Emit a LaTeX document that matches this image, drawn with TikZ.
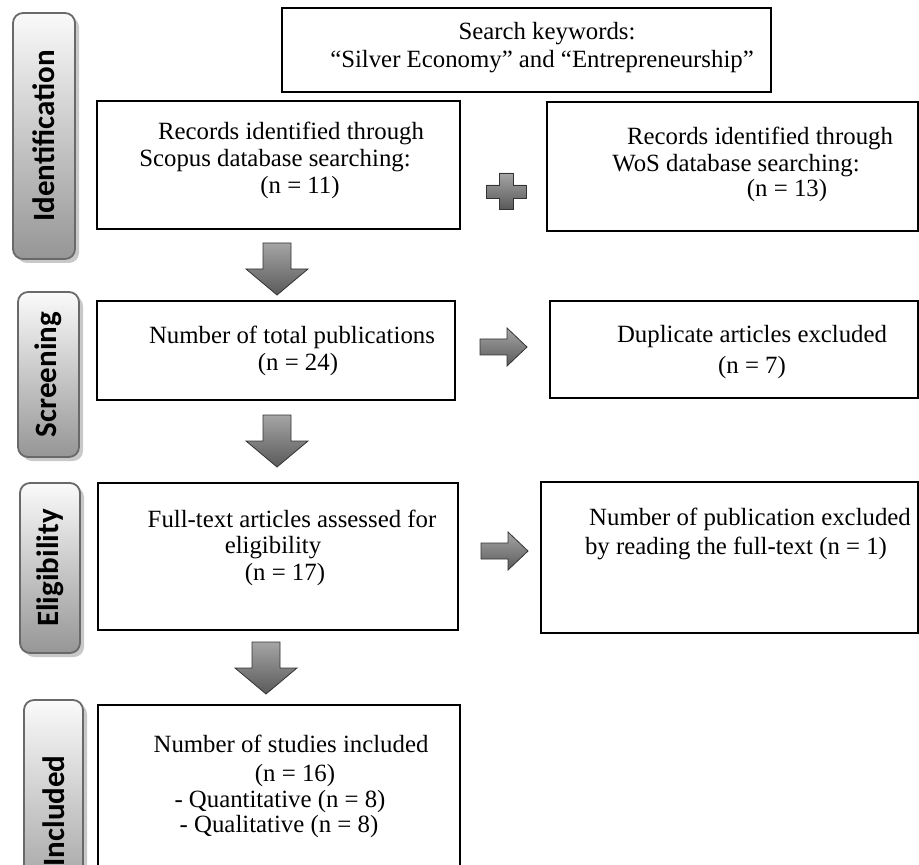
\documentclass[tikz,border=0pt]{standalone}
\usepackage{fontspec}
\setmainfont{Liberation Serif}
\newfontfamily\labfont{Carlito}
\usetikzlibrary{fit}
\definecolor{arrtop}{RGB}{165,165,165}
\definecolor{arrbot}{RGB}{90,90,90}
\definecolor{labtop}{RGB}{250,250,250}
\definecolor{labbot}{RGB}{150,150,150}
\definecolor{labedge}{RGB}{105,105,105}
\definecolor{shadowc}{RGB}{200,200,200}
\begin{document}
\begin{tikzpicture}[x=0.5pt,y=-0.5pt,
  box/.style={draw=black, line width=0.75pt, inner sep=0pt},
  txt/.style={anchor=base, inner sep=0pt, font=\fontsize{12.4}{14}\selectfont},
  blk/.style={draw=black!80, line width=0.4pt, top color=arrtop, bottom color=arrbot},
  phase/.style={draw=labedge, line width=0.9pt, rounded corners=5pt, top color=labtop, bottom color=labbot, inner sep=0pt},
  phshadow/.style={fill=shadowc, rounded corners=5pt},
  phasetxt/.style={rotate=90, font=\labfont\bfseries\fontsize{15.5}{16}\selectfont, inner sep=0pt},
  downblk/.pic={\path[blk] (-14,0) -- (14,0) -- (14,26) -- (31,26) -- (0,52) -- (-31,26) -- (-14,26) -- cycle;},
  rightblk/.pic={\path[blk] (0,-8) -- (27,-8) -- (27,-19) -- (47,0) -- (27,19) -- (27,8) -- (0,8) -- cycle;},
  plusblk/.pic={\path[blk] (-7,-18) -- (7,-18) -- (7,-6) -- (20,-6) -- (20,7) -- (7,7) -- (7,18) -- (-7,18) -- (-7,7) -- (-20,7) -- (-20,-6) -- (-7,-6) -- cycle;}
]
\useasboundingbox[fill=white] (0,0) rectangle (919,865);

% phase labels
\fill[phshadow] (17,17) rectangle (79,263);
\node[phase, fit={(13,13) (75,259)}] (pidf) {};
\node[phasetxt] (tidf) at (pidf.center) {Identification};

\fill[phshadow] (22,296) rectangle (83,461);
\node[phase, fit={(18,292) (79,457)}] (pscr) {};
\node[phasetxt] (tscr) at (pscr.center) {Screening};

\fill[phshadow] (24,487) rectangle (84,657);
\node[phase, fit={(20,483) (80,653)}] (pelg) {};
\node[phasetxt] (telg) at (pelg.center) {Eligibility};

\fill[phshadow] (28,704) rectangle (87,926);
\node[phase, fit={(24,700) (83,922)}] (pinc) {};
\node[phasetxt] (tinc) at (pinc.center) {Included};

% content boxes
\node[box, fit={(282,8) (771,92)}] (search) {};
\node[txt] (search1) at (547,40) {Search keywords:};
\node[txt] (search2) at (542,68) {``Silver Economy'' and ``Entrepreneurship''};

\node[box, fit={(97,101) (460,229)}] (scopus) {};
\node[txt] (scopus1) at (291,140) {Records identified through};
\node[txt] (scopus2) at (275,167) {Scopus database searching:};
\node[txt] (scopus3) at (300,194) {(n = 11)};

\node[box, fit={(547,102) (918,231)}] (wos) {};
\node[txt] (wos1) at (760,145) {Records identified through};
\node[txt] (wos2) at (736,172) {WoS database searching:};
\node[txt] (wos3) at (787,197) {(n = 13)};

\node[box, fit={(97,301) (455,400)}] (total) {};
\node[txt] (total1) at (292,344) {Number of total publications};
\node[txt] (total2) at (298,371) {(n = 24)};

\node[box, fit={(550,301) (918,398)}] (dup) {};
\node[txt] (dup1) at (752,343) {Duplicate articles excluded};
\node[txt] (dup2) at (752,374) {(n = 7)};

\node[box, fit={(98,483) (458,630)}] (full) {};
\node[txt] (full1) at (292,527) {Full-text articles assessed for};
\node[txt] (full2) at (273,553) {eligibility};
\node[txt] (full3) at (285,580) {(n = 17)};

\node[box, fit={(541,482) (918,633)}] (excl) {};
\node[txt] (excl1) at (750,525) {Number of publication excluded};
\node[txt] (excl2) at (736,554) {by reading the full-text (n = 1)};

\node[box, fit={(98,705) (460,890)}] (incl) {};
\node[txt] (incl1) at (291,752) {Number of studies included};
\node[txt] (incl2) at (295,781) {(n = 16)};
\node[txt] (incl3) at (280,807) {- Quantitative (n = 8)};
\node[txt] (incl4) at (279,832) {- Qualitative (n = 8)};

% block arrows
\pic at (506,191) {plusblk};
\pic at (277,243) {downblk};
\pic at (480,347) {rightblk};
\pic at (277,415) {downblk};
\pic at (481,551) {rightblk};
\pic at (266,642) {downblk};
\end{tikzpicture}
\end{document}
